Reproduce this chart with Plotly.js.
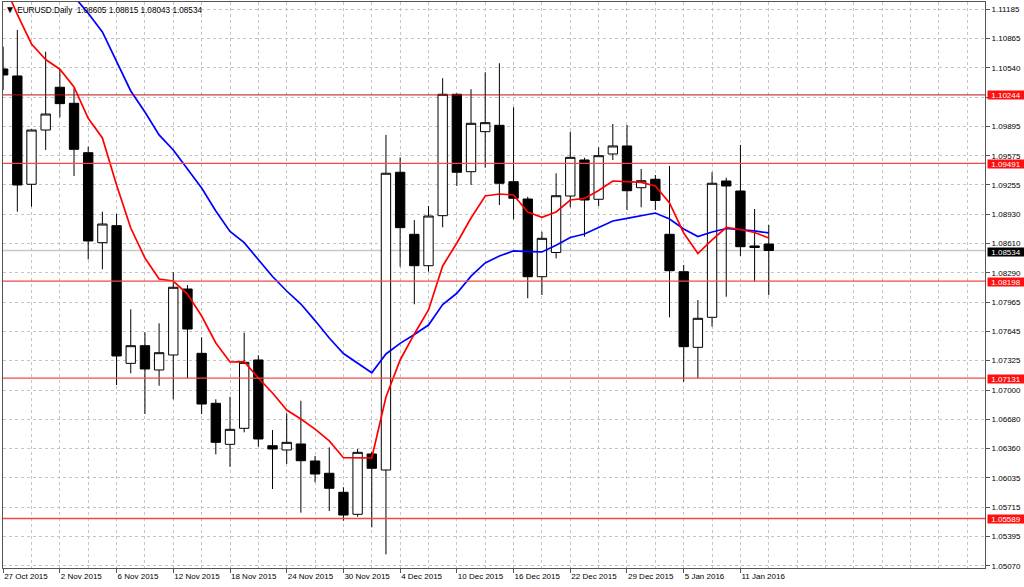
<!DOCTYPE html>
<html>
<head>
<meta charset="utf-8">
<script src="https://cdn.plot.ly/plotly-3.0.1.min.js"></script>
<style>
  html, body { margin: 0; padding: 0; background: #ffffff; }
  #chart { width: 1024px; height: 587px; }
</style>
</head>
<body>
<div id="chart"></div>
<script>
// ---- data ----
const symbol = 'EURUSD.Daily';

const dates = ['27 Oct 2015','28 Oct 2015','29 Oct 2015','30 Oct 2015',
  '2 Nov 2015','3 Nov 2015','4 Nov 2015','5 Nov 2015','6 Nov 2015',
  '9 Nov 2015','10 Nov 2015','11 Nov 2015','12 Nov 2015','13 Nov 2015',
  '16 Nov 2015','17 Nov 2015','18 Nov 2015','19 Nov 2015','20 Nov 2015',
  '23 Nov 2015','24 Nov 2015','25 Nov 2015','26 Nov 2015','27 Nov 2015',
  '30 Nov 2015','1 Dec 2015','2 Dec 2015','3 Dec 2015','4 Dec 2015',
  '7 Dec 2015','8 Dec 2015','9 Dec 2015','10 Dec 2015','11 Dec 2015',
  '14 Dec 2015','15 Dec 2015','16 Dec 2015','17 Dec 2015','18 Dec 2015',
  '21 Dec 2015','22 Dec 2015','23 Dec 2015','24 Dec 2015',
  '28 Dec 2015','29 Dec 2015','30 Dec 2015','31 Dec 2015',
  '4 Jan 2016','5 Jan 2016','6 Jan 2016','7 Jan 2016','8 Jan 2016',
  '11 Jan 2016','12 Jan 2016','13 Jan 2016'];

const open = [1.10529,1.10452,1.09262,1.09858,1.10328,1.10152,1.09609,1.08620,1.08807,
  1.07294,1.07488,1.07221,1.07386,1.08111,1.07404,1.06855,1.06404,1.06580,1.07331,
  1.06389,1.06342,1.06408,1.06221,1.06086,1.05877,1.05635,1.06298,1.06122,1.09394,
  1.08712,1.08367,1.08917,1.10251,1.09400,1.09840,1.09910,1.09290,1.09100,1.08246,
  1.08512,1.09133,1.09529,1.09097,1.09595,1.09683,1.09224,1.09317,1.08712,1.08301,
  1.07470,1.07800,1.09298,1.09188,1.08584,1.08605];

const high = [1.10774,1.10958,1.09865,1.10719,1.10518,1.10317,1.09675,1.08961,1.08935,
  1.07888,1.07635,1.07734,1.08295,1.08155,1.07580,1.06899,1.06927,1.07631,1.07382,
  1.06561,1.06745,1.06883,1.06276,1.06371,1.05932,1.06353,1.06323,1.09804,1.09558,
  1.08869,1.09023,1.10427,1.10260,1.10306,1.10493,1.10592,1.10108,1.09125,1.08741,
  1.09383,1.09840,1.09554,1.09668,1.09924,1.09913,1.09430,1.09364,1.09463,1.08375,
  1.07990,1.09394,1.09334,1.09694,1.08990,1.08815];

const low = [1.10298,1.08961,1.09016,1.09639,1.09998,1.09353,1.08437,1.08328,1.07056,
  1.07185,1.06737,1.07048,1.06899,1.07130,1.06737,1.06294,1.06158,1.06536,1.06378,
  1.05913,1.06188,1.05653,1.05987,1.05671,1.05565,1.05609,1.05492,1.05195,1.08356,
  1.07943,1.08301,1.08789,1.09243,1.09254,1.09444,1.09034,1.08877,1.08009,1.08045,
  1.08448,1.09009,1.08686,1.09023,1.09529,1.08979,1.09009,1.08979,1.07800,1.07092,
  1.07130,1.07697,1.08026,1.08474,1.08191,1.08043];

const close = [1.10463,1.09254,1.09858,1.10034,1.10148,1.09646,1.08639,1.08825,1.07375,
  1.07488,1.07232,1.07411,1.08130,1.07671,1.06847,1.06426,1.06569,1.07305,1.06463,
  1.06353,1.06426,1.06224,1.06078,1.05921,1.05627,1.06316,1.06141,1.09383,1.08785,
  1.08367,1.08913,1.10251,1.09394,1.09932,1.09939,1.09273,1.09108,1.08246,1.08668,
  1.09136,1.09558,1.09089,1.09576,1.09683,1.09191,1.09301,1.09084,1.08312,1.07477,
  1.07789,1.09273,1.09243,1.08576,1.08567,1.08534];

// fast moving average (red) and slow moving average (blue)
const maFast = [1.11485,1.11128,1.10804,1.10633,1.10526,1.10331,1.09987,1.09771,1.09254,
  1.08781,1.08452,1.08221,1.08199,1.08056,1.07814,1.07518,1.07309,1.07312,1.07133,
  1.06968,1.06781,1.06682,1.06572,1.06441,1.06257,1.06257,1.06254,1.06924,1.07331,
  1.07617,1.07880,1.08364,1.08617,1.08891,1.09133,1.09155,1.09144,1.08957,1.08899,
  1.08957,1.09089,1.09106,1.09194,1.09298,1.09293,1.09282,1.09243,1.09056,1.08727,
  1.08501,1.08650,1.08787,1.08765,1.08732,1.08672];

const maSlow = [null,null,null,null,null,1.11326,1.11141,1.10936,1.10606,
  1.10287,1.10056,1.09804,1.09639,1.09430,1.09221,1.08968,1.08743,1.08620,1.08434,
  1.08248,1.08089,1.07946,1.07764,1.07573,1.07402,1.07292,1.07191,1.07397,1.07514,
  1.07611,1.07715,1.07941,1.08064,1.08252,1.08397,1.08474,1.08529,1.08521,1.08518,
  1.08591,1.08677,1.08716,1.08787,1.08858,1.08888,1.08919,1.08946,1.08880,1.08770,
  1.08688,1.08738,1.08776,1.08765,1.08749,1.08727];

// horizontal levels
const levelsMain = [1.10244];
const levels = [1.09491, 1.08198, 1.07131, 1.05589];
const bidPrice = 1.08534;

// price scale ticks
const yTicks = [1.11185,1.10865,1.10540,1.10215,1.09895,1.09575,1.09255,1.08930,1.08610,
  1.08290,1.07965,1.07645,1.07325,1.07000,1.06680,1.06360,1.06035,1.05715,1.05395,1.05070];
const yTickHidden = [1.10215];

// ---- chart ----
const FONT = 'Liberation Sans, Arial, sans-serif';
const n = dates.length;
const xRange = [-0.01, 69.25];
const yRange = [1.05045, 1.11265];

const gridIdx = [];
for (let i = 0; i <= 68; i += 2) gridIdx.push(i);
const labelDates = dates.filter((d, i) => i % 4 === 0);

const traces = [
  {
    type: 'candlestick', x: dates, open: open, high: high, low: low, close: close,
    xaxis: 'x', yaxis: 'y',
    increasing: { line: { color: '#000000', width: 1 }, fillcolor: '#ffffff' },
    decreasing: { line: { color: '#000000', width: 1 }, fillcolor: '#000000' },
    whiskerwidth: 0, hoverinfo: 'skip', showlegend: false
  },
  {
    type: 'scatter', mode: 'lines', x: dates, y: maSlow, xaxis: 'x2', yaxis: 'y',
    line: { color: '#0000ff', width: 1.7 }, hoverinfo: 'skip', showlegend: false
  },
  {
    type: 'scatter', mode: 'lines', x: dates, y: maFast, xaxis: 'x2', yaxis: 'y',
    line: { color: '#ff0000', width: 1.7 }, hoverinfo: 'skip', showlegend: false
  }
];

const shapes = [];
shapes.push({ type: 'line', xref: 'paper', x0: 0, x1: 1, yref: 'y', y0: bidPrice, y1: bidPrice,
  line: { color: '#c8c8c8', width: 1.4 }, layer: 'below' });
levelsMain.forEach(v => shapes.push({ type: 'line', xref: 'paper', x0: 0, x1: 1, yref: 'y', y0: v, y1: v,
  line: { color: '#b81010', width: 1 }, layer: 'above' }));
levels.forEach(v => shapes.push({ type: 'line', xref: 'paper', x0: 0, x1: 1, yref: 'y', y0: v, y1: v,
  line: { color: '#f04848', width: 1.3 }, layer: 'above' }));

const annotations = [];
levelsMain.concat(levels).forEach(v => annotations.push({
  xref: 'paper', x: 1, xanchor: 'left', xshift: 2, yref: 'y', y: v, yanchor: 'middle',
  yshift: -0.5, text: v.toFixed(5), showarrow: false, bgcolor: '#ff1010', borderpad: 0,
  width: 36, height: 8, align: 'center',
  font: { family: FONT, size: 8, color: '#ffffff' }
}));
annotations.push({
  xref: 'paper', x: 1, xanchor: 'left', xshift: 2, yref: 'y', y: bidPrice, yanchor: 'middle',
  yshift: -1, text: bidPrice.toFixed(5), showarrow: false, bgcolor: '#000000', borderpad: 0,
  width: 36, height: 8, align: 'center',
  font: { family: FONT, size: 8, color: '#ffffff' }
});

const last = n - 1;
const titleText = '<span style="font-size:10px">▼</span> ' + symbol + '&nbsp; ' +
  [open[last], high[last], low[last], close[last]].map(v => v.toFixed(5)).join(' ');

const layout = {
  width: 1024, height: 587,
  margin: { l: 3, r: 39, t: 2, b: 19, pad: 0 },
  paper_bgcolor: '#ffffff', plot_bgcolor: '#ffffff',
  font: { family: FONT, size: 8, color: '#000000' },
  showlegend: false,
  boxgap: 0.34, boxgroupgap: 0,
  title: {
    text: titleText, xref: 'container', yref: 'container',
    x: 5 / 1024, xanchor: 'left', y: 1 - 10 / 587, yanchor: 'middle',
    font: { family: FONT, size: 8.2, color: '#000000' }
  },
  xaxis: {
    type: 'category', categoryorder: 'array', categoryarray: dates,
    range: xRange, fixedrange: true,
    rangeslider: { visible: false },
    tickmode: 'array', tickvals: labelDates, ticktext: labelDates,
    ticks: 'outside', ticklen: 4, tickcolor: '#555555', tickwidth: 1,
    ticklabelposition: 'outside right',
    tickfont: { family: FONT, size: 8, color: '#000000' },
    showgrid: false,
    showline: true, linecolor: '#555555', linewidth: 1, mirror: true,
    zeroline: false
  },
  xaxis2: {
    type: 'category', categoryorder: 'array', categoryarray: dates,
    overlaying: 'x', anchor: 'y', side: 'bottom',
    range: xRange, fixedrange: true,
    tickmode: 'array', tickvals: gridIdx, ticktext: gridIdx.map(() => ''),
    showticklabels: false, ticks: '',
    showgrid: true, gridcolor: '#c4c4c4', gridwidth: 1, griddash: '3px,3px',
    showline: false, zeroline: false
  },
  yaxis: {
    side: 'right', range: yRange, fixedrange: true,
    tickmode: 'array', tickvals: yTicks,
    ticktext: yTicks.map(v => yTickHidden.includes(v) ? '' : v.toFixed(5)),
    ticks: 'outside', ticklen: 4, tickcolor: '#555555',
    tickfont: { family: FONT, size: 8, color: '#000000' },
    showgrid: true, gridcolor: '#c4c4c4', gridwidth: 1, griddash: '3px,3px',
    showline: true, linecolor: '#555555', linewidth: 1, mirror: true,
    zeroline: false
  },
  shapes: shapes,
  annotations: annotations
};

Plotly.newPlot('chart', traces, layout, { displayModeBar: false, responsive: false });
</script>
</body>
</html>
